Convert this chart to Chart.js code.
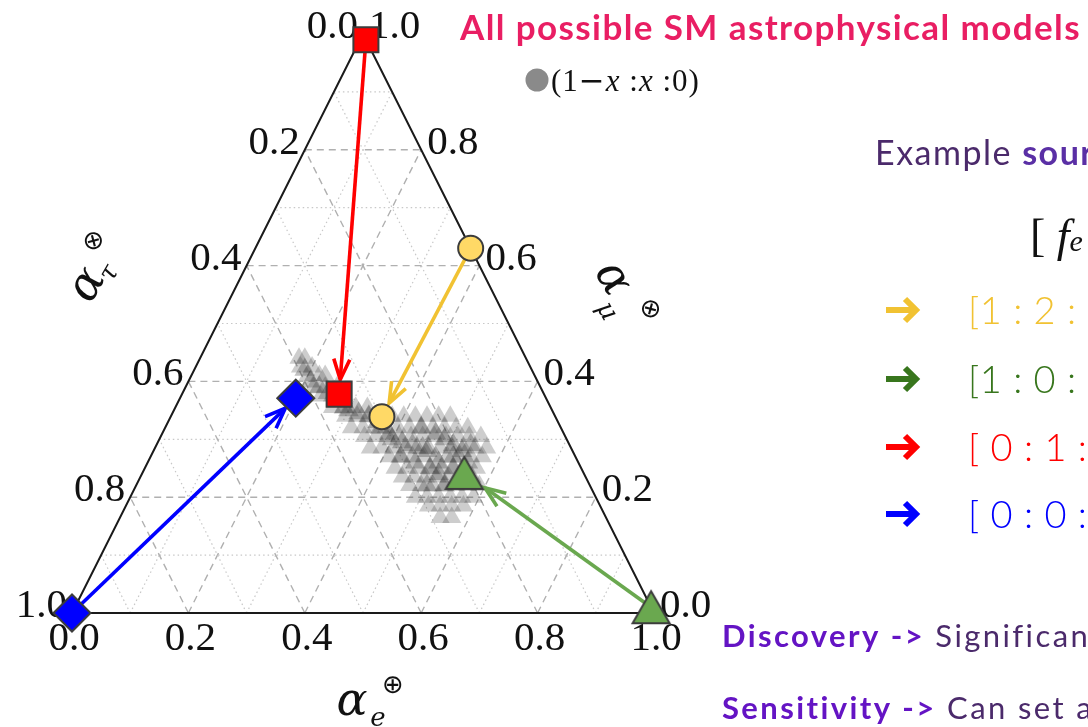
<!DOCTYPE html>
<html>
<head>
<meta charset="utf-8">
<script src="https://cdn.jsdelivr.net/npm/chart.js@4.4.1/dist/chart.umd.min.js"></script>
<style>
  html, body { margin: 0; padding: 0; background: #ffffff; overflow: hidden; }
  canvas { display: block; }
</style>
</head>
<body>
<canvas id="flavourTriangle" width="1088" height="727"></canvas>
<script>
// Flavour compositions are given as (alpha_e, alpha_mu); alpha_tau = 1 - alpha_e - alpha_mu.

// Source flavour ratios, listed on the right
const sourceLabels = ['[1 : 2 : 0 ]', '[1 : 0 : 0 ]', '[ 0 : 1 : 0 ]', '[ 0 : 0 : 1 ]'];

// Composition at the source
const sourceE  = [0.37, 0.99, 0.01, 0.00];
const sourceMu = [0.63, 0.01, 0.99, 0.00];

// Composition at Earth after oscillation
const earthE  = [0.363, 0.553, 0.270, 0.199];
const earthMu = [0.339, 0.242, 0.378, 0.371];

// Axis ticks
const tickValues = [0.0, 0.2, 0.4, 0.6, 0.8, 1.0];
const gridValues = [0.1, 0.2, 0.3, 0.4, 0.5, 0.6, 0.7, 0.8, 0.9];

// Region reached by all SM astrophysical models, (1-x : x : 0) family, [alpha_e, alpha_mu]
const cloudPoints = [
  [0.17, 0.44], [0.18, 0.44],
  [0.18, 0.425], [0.20, 0.425],
  [0.20, 0.41], [0.22, 0.41], [0.23, 0.41],
  [0.22, 0.39], [0.24, 0.39], [0.26, 0.39],
  [0.24, 0.375], [0.26, 0.375], [0.28, 0.375],
  [0.27, 0.355], [0.29, 0.355], [0.31, 0.355], [0.33, 0.355],
  [0.30, 0.34], [0.32, 0.34], [0.34, 0.34], [0.36, 0.34], [0.38, 0.34], [0.40, 0.34], [0.42, 0.34], [0.44, 0.34], [0.46, 0.34], [0.48, 0.34],
  [0.32, 0.32], [0.34, 0.32], [0.36, 0.32], [0.38, 0.32], [0.40, 0.32], [0.42, 0.32], [0.44, 0.32], [0.46, 0.32], [0.48, 0.32], [0.50, 0.32], [0.52, 0.32],
  [0.35, 0.305], [0.37, 0.305], [0.39, 0.305], [0.41, 0.305], [0.43, 0.305], [0.45, 0.305], [0.47, 0.305], [0.49, 0.305], [0.51, 0.305], [0.53, 0.305], [0.55, 0.305],
  [0.37, 0.285], [0.39, 0.285], [0.41, 0.285], [0.43, 0.285], [0.45, 0.285], [0.47, 0.285], [0.49, 0.285], [0.51, 0.285], [0.53, 0.285], [0.55, 0.285], [0.57, 0.285],
  [0.41, 0.27], [0.43, 0.27], [0.45, 0.27], [0.47, 0.27], [0.49, 0.27], [0.51, 0.27], [0.53, 0.27], [0.55, 0.27], [0.57, 0.27],
  [0.43, 0.25], [0.45, 0.25], [0.47, 0.25], [0.49, 0.25], [0.51, 0.25], [0.53, 0.25], [0.55, 0.25], [0.57, 0.25],
  [0.45, 0.235], [0.47, 0.235], [0.49, 0.235], [0.51, 0.235], [0.53, 0.235], [0.55, 0.235], [0.57, 0.235],
  [0.47, 0.22], [0.49, 0.22], [0.51, 0.22], [0.53, 0.22], [0.55, 0.22], [0.57, 0.22], [0.59, 0.22],
  [0.49, 0.20], [0.51, 0.20], [0.53, 0.20], [0.55, 0.20], [0.57, 0.20], [0.59, 0.20],
  [0.52, 0.185], [0.54, 0.185], [0.56, 0.185], [0.58, 0.185],
  [0.55, 0.165], [0.57, 0.165]
];

// Densest part of the same region
const cloudCore = [
  [0.19, 0.42], [0.21, 0.40], [0.23, 0.39], [0.25, 0.38], [0.27, 0.37], [0.29, 0.355], [0.30, 0.35], [0.32, 0.345],
  [0.34, 0.34], [0.36, 0.33], [0.37, 0.32], [0.39, 0.31],
  [0.40, 0.30], [0.42, 0.295], [0.44, 0.29], [0.46, 0.285], [0.47, 0.28], [0.50, 0.26], [0.53, 0.25], [0.56, 0.23],
  [0.44, 0.32], [0.47, 0.31], [0.49, 0.30], [0.51, 0.29], [0.53, 0.28], [0.49, 0.25], [0.51, 0.24], [0.53, 0.22],
  [0.54, 0.29], [0.43, 0.27], [0.46, 0.26], [0.52, 0.27], [0.55, 0.26], [0.50, 0.22]
];

// ---- styling ----
const markerFill   = ['#ffd966', '#6aa84f', '#ff0000', '#0000ff'];
const arrowColour  = ['#f1c232', '#6aa84f', '#ff0000', '#0000ff'];
const labelColour  = ['#f1c232', '#38761d', '#ff0000', '#0000ff'];
const arrowEndGap  = [14, 24, 13, 13];
const markerEdge   = '#3c3c3c';

// Ternary (alpha_e, alpha_mu) -> plane coordinates used by the linear scales
const toPlane = (e, mu) => ({ x: e + mu / 2, y: mu });

function triangleMarker(fill) {
  const c = document.createElement('canvas');
  c.width = 42; c.height = 38;
  const g = c.getContext('2d');
  g.beginPath();
  g.moveTo(21, 3); g.lineTo(39.5, 35); g.lineTo(2.5, 35); g.closePath();
  g.fillStyle = fill; g.fill();
  g.lineWidth = 2; g.strokeStyle = markerEdge; g.lineJoin = 'miter';
  g.stroke();
  return c;
}
const greenTriangle = triangleMarker(markerFill[1]);
const markerShapes = ['circle', greenTriangle, 'rect', 'rectRot'];
const markerRadius = [12.5, 18, 17.7, 18.5];

const markerPoints = [];
const markerStyleList = [], markerRadiusList = [], markerFillList = [];
for (let i = 0; i < sourceE.length; i++) {
  markerPoints.push(toPlane(earthE[i], earthMu[i]));
  markerStyleList.push(markerShapes[i]); markerRadiusList.push(markerRadius[i]); markerFillList.push(markerFill[i]);
}
for (let i = 0; i < sourceE.length; i++) {
  markerPoints.push(toPlane(sourceE[i], sourceMu[i]));
  markerStyleList.push(markerShapes[i]); markerRadiusList.push(markerRadius[i]); markerFillList.push(markerFill[i]);
}

// ---- helpers for drawing in plane coordinates ----
function px(chart, e, mu) {
  const p = toPlane(e, mu);
  return [chart.scales.x.getPixelForValue(p.x), chart.scales.y.getPixelForValue(p.y)];
}
function segment(ctx, a, b) {
  ctx.beginPath(); ctx.moveTo(a[0], a[1]); ctx.lineTo(b[0], b[1]); ctx.stroke();
}

const ternaryFrame = {
  id: 'ternaryFrame',
  beforeDatasetsDraw(chart) {
    const ctx = chart.ctx;
    ctx.save();
    // grid: dashed every 0.2, dotted in between
    gridValues.forEach(v => {
      const major = Math.round(v * 10) % 2 === 0;
      ctx.setLineDash(major ? [7, 5] : [1.5, 3]);
      ctx.strokeStyle = major ? '#b0b0b0' : '#c8c8c8';
      ctx.lineWidth = major ? 1.4 : 1.2;
      segment(ctx, px(chart, 0, v), px(chart, 1 - v, v));          // constant alpha_mu
      segment(ctx, px(chart, v, 0), px(chart, v, 1 - v));          // constant alpha_e
      segment(ctx, px(chart, 1 - v, 0), px(chart, 0, 1 - v));      // constant alpha_tau
    });
    ctx.setLineDash([]);
    // triangle edges
    ctx.strokeStyle = '#1a1a1a';
    ctx.lineWidth = 2;
    ctx.lineJoin = 'miter';
    const A = px(chart, 0, 0), B = px(chart, 1, 0), C = px(chart, 0, 1);
    ctx.beginPath(); ctx.moveTo(A[0], A[1]); ctx.lineTo(B[0], B[1]); ctx.lineTo(C[0], C[1]); ctx.closePath(); ctx.stroke();

    // tick labels
    ctx.fillStyle = '#111111';
    ctx.font = '41px "Liberation Serif", serif';
    ctx.textBaseline = 'alphabetic';
    tickValues.forEach(v => {
      const t = v.toFixed(1);
      // alpha_e along the bottom
      let p = px(chart, v, 0);
      ctx.textAlign = 'center';
      ctx.fillText(t, p[0] + 2, p[1] + 37);
      // alpha_tau along the left edge
      p = px(chart, 0, 1 - v);
      ctx.textAlign = 'right';
      ctx.fillText(t, p[0] - 5, p[1] + 4);
      // alpha_mu along the right edge
      p = px(chart, 1 - v, v);
      ctx.textAlign = 'left';
      ctx.fillText(t, p[0] + 6, p[1] + 4);
    });

    // axis titles
    drawAxisTitle(ctx, 352, 703, 0, 'e', '\u2295', [26, 16], [41, -17]);
    drawAxisTitle(ctx, 88, 285, -Math.PI / 3, '\u03c4', '\u2297', [21, 13], [41, -16]);
    drawAxisTitle(ctx, 612, 279, Math.PI / 3, '\u03bc', '\u2297', [25, 21], [45, -17]);
    ctx.restore();
  },
  afterDatasetDraw(chart, args) {
    if (args.index !== 1) return;
    const ctx = chart.ctx;
    ctx.save();
    for (let i = 0; i < sourceE.length; i++) {
      const a = px(chart, sourceE[i], sourceMu[i]);
      const b = px(chart, earthE[i], earthMu[i]);
      drawArrow(ctx, a, b, arrowColour[i], arrowEndGap[i]);
    }
    ctx.restore();
  },
  afterDraw(chart) {
    const ctx = chart.ctx;
    ctx.save();
    // legend entry for the model family
    ctx.fillStyle = '#8a8a8a';
    ctx.beginPath(); ctx.arc(537, 80, 11.5, 0, Math.PI * 2); ctx.fill();
    ctx.letterSpacing = '1px';
    drawRuns(ctx, 551, 91, [
      ['(1', '31px "Liberation Serif", serif', '#111'],
      ['\u2212', '31px "DejaVu Sans", sans-serif', '#111'],
      ['x', 'italic 31px "Liberation Serif", serif', '#111'],
      [' :', '31px "Liberation Serif", serif', '#111'],
      ['x', 'italic 31px "Liberation Serif", serif', '#111'],
      [' :0)', '31px "Liberation Serif", serif', '#111']
    ]);

    // headline
    ctx.letterSpacing = '1.4px';
    drawRuns(ctx, 460, 40, [['All possible SM astrophysical models', 'bold 35px Lato, sans-serif', '#e91e63']]);

    ctx.letterSpacing = '1.5px';
    drawRuns(ctx, 875, 165, [
      ['Example ', '34px Lato, sans-serif', '#4b2a6b'],
      ['source', 'bold 34px Lato, sans-serif', '#5a2fa5']
    ]);
    ctx.letterSpacing = '0px';
    drawRuns(ctx, 1030, 251, [
      ['[', '46px "Liberation Serif", serif', '#111'],
      [' f', 'italic 46px "Liberation Serif", serif', '#111'],
      ['e', 'italic 30px "Liberation Serif", serif', '#111']
    ]);

    // source ratio list
    const rowY = [310, 379, 447, 514];
    for (let i = 0; i < sourceLabels.length; i++) {
      drawListArrow(ctx, 886, rowY[i], labelColour[i]);
      ctx.fillStyle = labelColour[i];
      ctx.letterSpacing = '0.5px';
      ctx.font = '300 38px Lato, sans-serif';
      ctx.textAlign = 'left';
      ctx.textBaseline = 'alphabetic';
      ctx.fillText(sourceLabels[i], 968, rowY[i] + 14);
    }

    // notes at the bottom
    ctx.letterSpacing = '2.4px';
    drawRuns(ctx, 722, 647, [
      ['Discovery ->', 'bold 31px Lato, sans-serif', '#6414c4'],
      [' Significant', '31px Lato, sans-serif', '#4b2a6b']
    ]);
    drawRuns(ctx, 722, 719, [
      ['Sensitivity ->', 'bold 31px Lato, sans-serif', '#6414c4'],
      [' Can set a', '31px Lato, sans-serif', '#4b2a6b']
    ]);
    ctx.restore();
  }
};

function drawListArrow(ctx, x, y, colour) {
  ctx.save();
  ctx.strokeStyle = colour;
  ctx.lineWidth = 6;
  ctx.lineCap = 'butt';
  ctx.lineJoin = 'miter';
  ctx.beginPath(); ctx.moveTo(x, y); ctx.lineTo(x + 29, y); ctx.stroke();
  ctx.beginPath(); ctx.moveTo(x + 19, y - 11); ctx.lineTo(x + 30, y); ctx.lineTo(x + 19, y + 11); ctx.stroke();
  ctx.restore();
}

function drawRuns(ctx, x, y, runs) {
  ctx.textAlign = 'left';
  ctx.textBaseline = 'alphabetic';
  runs.forEach(r => {
    ctx.font = r[1]; ctx.fillStyle = r[2];
    ctx.fillText(r[0], x, y);
    x += ctx.measureText(r[0]).width;
  });
}

function drawAxisTitle(ctx, x, y, angle, sub, sup, subOff, supOff) {
  ctx.save();
  ctx.translate(x, y);
  ctx.rotate(angle);
  ctx.fillStyle = '#111111';
  ctx.textAlign = 'center';
  ctx.textBaseline = 'middle';
  ctx.font = 'italic 46px "DejaVu Serif", serif';
  ctx.fillText('\u03b1', 0, 0);
  ctx.font = 'italic 26px "DejaVu Serif", serif';
  ctx.fillText(sub, subOff[0], subOff[1]);
  ctx.font = '26px "DejaVu Sans", sans-serif';
  ctx.fillText(sup, supOff[0], supOff[1]);
  ctx.restore();
}

function drawArrow(ctx, a, b, colour, endGap) {
  const dx = b[0] - a[0], dy = b[1] - a[1];
  const L = Math.hypot(dx, dy), ux = dx / L, uy = dy / L;
  const tx = b[0] - ux * endGap, ty = b[1] - uy * endGap;
  ctx.strokeStyle = colour;
  ctx.lineWidth = 3.6;
  ctx.lineCap = 'butt';
  ctx.lineJoin = 'miter';
  ctx.beginPath(); ctx.moveTo(a[0], a[1]); ctx.lineTo(tx - ux * 2, ty - uy * 2); ctx.stroke();
  const hl = 22, hw = 8;
  ctx.beginPath();
  ctx.moveTo(tx - ux * hl - uy * hw, ty - uy * hl + ux * hw);
  ctx.lineTo(tx - ux * 1.5, ty - uy * 1.5);
  ctx.lineTo(tx - ux * hl + uy * hw, ty - uy * hl - ux * hw);
  ctx.stroke();
}

new Chart(document.getElementById('flavourTriangle'), {
  type: 'scatter',
  data: {
    datasets: [
      {
        label: 'flavour at source and at Earth',
        data: markerPoints,
        pointStyle: markerStyleList,
        pointRadius: markerRadiusList,
        backgroundColor: markerFillList,
        borderColor: markerEdge,
        borderWidth: 2,
        order: 0,
        clip: false
      },
      {
        label: 'SM astrophysical models',
        data: cloudPoints.map(p => toPlane(p[0], p[1])),
        pointStyle: 'triangle',
        pointRadius: 11,
        backgroundColor: 'rgba(60,60,60,0.26)',
        borderWidth: 0,
        order: 1,
        clip: false
      },
      {
        label: 'SM astrophysical models (core)',
        data: cloudCore.map(p => toPlane(p[0], p[1])),
        pointStyle: 'triangle',
        pointRadius: 12,
        backgroundColor: 'rgba(50,50,50,0.3)',
        borderWidth: 0,
        order: 2,
        clip: false
      }
    ]
  },
  options: {
    responsive: false,
    animation: false,
    events: [],
    layout: { padding: { left: 72, right: 434, top: 34, bottom: 114 } },
    scales: {
      x: { type: 'linear', min: 0, max: 1, display: false },
      y: { type: 'linear', min: 0, max: 1, display: false }
    },
    plugins: { legend: { display: false }, tooltip: { enabled: false } }
  },
  plugins: [ternaryFrame]
});
</script>
</body>
</html>
